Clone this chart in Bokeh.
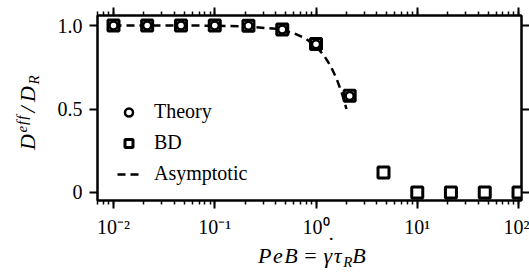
from bokeh.plotting import figure
from bokeh.layouts import row, column
from bokeh.models import (LogAxis, LinearAxis, FixedTicker, LogTicker, Range1d, Div,
                          CustomJSTickFormatter, Legend, LegendItem)
from bokeh.embed import file_html
from bokeh.resources import INLINE

# ---- data ----
peb_bd = [0.01, 0.0215, 0.0464, 0.1, 0.215, 0.464, 1.0, 2.15, 4.64, 10.0, 21.5, 46.4, 100.0]
deff_bd = [1.0, 1.0, 1.0, 1.0, 0.998, 0.976, 0.89, 0.58, 0.12, 0.0, 0.0, 0.0, 0.0]
peb_theory = [0.01, 0.0215, 0.0464, 0.1, 0.215, 0.464, 1.0, 2.15]
deff_theory = [1.0, 1.0, 1.0, 1.0, 0.998, 0.976, 0.888, 0.578]
peb_asym = [0.01, 0.02, 0.05, 0.1, 0.2, 0.4, 0.6, 0.8, 1.0, 1.2, 1.4, 1.6, 1.8, 2.0]
deff_asym = [1.0, 1.0, 1.0, 0.999, 0.995, 0.98, 0.955, 0.92, 0.875, 0.82, 0.755, 0.68, 0.595, 0.5]
x_ticks = [0.01, 0.1, 1.0, 10.0, 100.0]
y_ticks = [0, 0.5, 1]
y_tick_labels = ["0", "0.5", "1.0"]
series_labels = ["Theory", "BD", "Asymptotic"]

FONT = "Liberation Serif"

p = figure(width=489, height=240, x_axis_type="log",
           x_range=Range1d(0.00695, 107), y_range=Range1d(-0.048, 1.06),
           output_backend="svg", toolbar_location=None,
           min_border_left=57, min_border_right=8, min_border_top=15, min_border_bottom=40)
p.grid.visible = False
p.outline_line_color = "black"
p.outline_line_width = 2
p.background_fill_color = "white"
p.border_fill_color = "white"


def style(ax, labels=True, minor=True):
    ax.axis_line_width = 2
    ax.axis_line_color = "black"
    ax.major_tick_line_width = 2
    ax.major_tick_line_color = "black"
    ax.major_tick_out = 8
    ax.major_tick_in = 0
    if minor:
        ax.minor_tick_line_width = 1.5
        ax.minor_tick_line_color = "black"
        ax.minor_tick_out = 4
        ax.minor_tick_in = 0
    else:
        ax.minor_tick_line_color = None
    ax.major_label_text_font = FONT
    if labels:
        ax.major_label_text_color = "black"
        ax.major_label_text_font_size = "20px"
        ax.major_label_standoff = 7
    else:
        ax.major_label_text_color = None
        ax.major_label_text_font_size = "1px"
        ax.major_label_standoff = 0


sup_fmt = CustomJSTickFormatter(code="""
const sup = {'-':'\u207b','0':'\u2070','1':'\u00b9','2':'\u00b2','3':'\u00b3','4':'\u2074',
             '5':'\u2075','6':'\u2076','7':'\u2077','8':'\u2078','9':'\u2079'};
const e = Math.round(Math.log10(tick));
return '10' + String(e).split('').map(c => sup[c]).join('');
""")

xa = p.xaxis[0]
xa.ticker = LogTicker(num_minor_ticks=10, desired_num_ticks=5)
xa.formatter = sup_fmt
style(xa)

ya = p.yaxis[0]
ya.ticker = FixedTicker(ticks=y_ticks)
ya.major_label_overrides = {t: l for t, l in zip(y_ticks, y_tick_labels)}
style(ya, minor=False)

top = LogAxis(ticker=LogTicker(num_minor_ticks=10, desired_num_ticks=5))
style(top, labels=False)
p.add_layout(top, "above")

right = LinearAxis(ticker=FixedTicker(ticks=y_ticks))
style(right, labels=False, minor=False)
p.add_layout(right, "right")

r_as = p.line(peb_asym, deff_asym, line_color="black", line_width=2.5, line_dash="8 5")
r_bd = p.scatter(peb_bd, deff_bd, marker="square", size=11, line_width=3,
                 line_color="black", fill_color="white")
r_th = p.scatter(peb_theory, deff_theory, marker="circle", size=8, line_width=2.5,
                 line_color="black", fill_color="white")

legend = Legend(items=[LegendItem(label=series_labels[0], renderers=[r_th]),
                       LegendItem(label=series_labels[1], renderers=[r_bd]),
                       LegendItem(label=series_labels[2], renderers=[r_as])],
                location=(20, 15), border_line_color=None, background_fill_alpha=0,
                label_text_font=FONT, label_text_font_size="20px", label_text_color="black",
                glyph_width=23, glyph_height=20, label_height=20, spacing=8,
                label_standoff=14, padding=0)
p.add_layout(legend, "center")

# ---- axis titles as HTML text (sub/superscripts) ----
BASE = ("font-family:'Liberation Serif',serif;font-size:22px;line-height:22px;"
        "color:black;white-space:nowrap;")
IT = "font-style:italic;letter-spacing:1.5px;"
SUB = "font-style:italic;font-size:15px;position:relative;top:4px;"
SUP = "font-style:italic;font-size:15px;position:relative;top:-8px;letter-spacing:1px;"

ytitle = ('<span style="%s">D</span>' % IT
          + '<span style="%s">eff</span>' % SUP
          + '<span style="%s;margin:0 3px 0 2px;">/</span>' % IT
          + '<span style="%s">D</span>' % IT
          + '<span style="%s">R</span>' % SUB)
ydiv = Div(width=40, height=240, margin=0,
           text=('<div style="position:relative;width:40px;height:240px;">'
                 '<div style="position:absolute;left:17px;top:150px;transform:rotate(-90deg);'
                 'transform-origin:0 0;%s">%s</div></div>' % (BASE, ytitle)))

gamma_dot = ('<span style="position:relative;%s">\u03b3'
             '<span style="position:absolute;left:4px;top:-9px;font-style:normal;">\u02d9</span>'
             '</span>' % IT)
xtitle = ('<span style="%s">PeB</span>' % IT
          + '<span style="margin:0 7px 0 5px;">=</span>'
          + gamma_dot
          + '<span style="%s">\u03c4</span>' % IT
          + '<span style="%s">R</span>' % SUB
          + '<span style="%s">B</span>' % IT)
xdiv = Div(width=529, height=38, margin=0,
           text=('<div style="position:relative;width:529px;height:38px;">'
                 '<div style="position:absolute;left:258px;top:5px;%s">%s</div></div>'
                 % (BASE, xtitle)))

layout = column(row(ydiv, p, spacing=0, margin=0), xdiv, spacing=0, margin=0)

open("out.html", "w").write(file_html(layout, INLINE))
